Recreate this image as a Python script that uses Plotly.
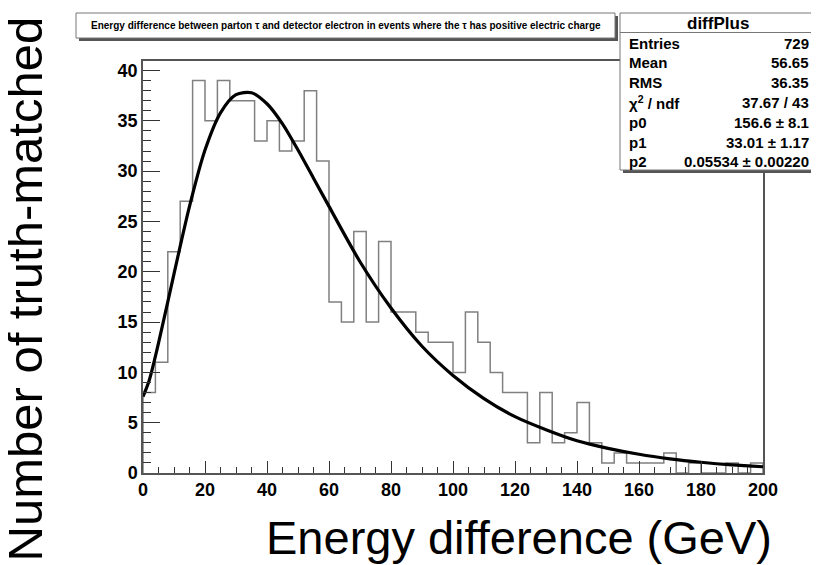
import plotly.graph_objects as go

# ---------------- data ----------------
bin_low_edges = [0, 4, 8, 12, 16, 20, 24, 28, 32, 36, 40, 44, 48, 52, 56, 60, 64, 68, 72, 76,
                 80, 84, 88, 92, 96, 100, 104, 108, 112, 116, 120, 124, 128, 132, 136, 140,
                 144, 148, 152, 156, 160, 164, 168, 172, 176, 180, 184, 188, 192, 196]
bin_width = 4
counts = [8, 11, 22, 27, 39, 35, 39, 37, 37, 33, 35, 32, 33, 38, 31, 17, 15, 24, 15, 23,
          16, 16, 14, 13, 13, 10, 16, 13, 10, 8, 8, 3, 8, 3, 4, 7, 3, 1, 2, 1,
          1, 1, 2, 0, 1, 0, 0, 1, 0, 1]

fit_x = [0, 2, 5, 10, 15, 20, 25, 30, 35, 40, 45, 50, 55, 60, 70, 80, 90, 100, 110, 120,
         130, 140, 150, 160, 170, 180, 190, 200]
fit_y = [7.6, 9.2, 12.9, 19.8, 26.5, 32.1, 35.8, 37.6, 37.8, 36.7, 34.7, 32.1, 29.3, 26.5,
         21.0, 16.4, 12.6, 9.7, 7.4, 5.6, 4.3, 3.2, 2.45, 1.86, 1.41, 1.07, 0.81, 0.62]

x_tick_vals = [0, 20, 40, 60, 80, 100, 120, 140, 160, 180, 200]
y_tick_vals = [0, 5, 10, 15, 20, 25, 30, 35, 40]

title_text = ("Energy difference between parton \u03c4 and detector electron in events "
              "where the \u03c4 has positive electric charge")
x_title = "Energy difference (GeV)"
y_title = "Number of truth-matched pairs"

stats_name = "diffPlus"
stats_labels = ["Entries", "Mean", "RMS", "\u03c7<sup>2</sup> / ndf", "p0", "p1", "p2"]
stats_values = ["729", "56.65", "36.35", "37.67 / 43", "156.6 \u00b1 8.1",
                "33.01 \u00b1 1.17", "0.05534 \u00b1 0.00220"]

# ---------------- layout geometry (page pixels) ----------------
BODY = 8                      # default page margin around the plot div
FIG_W, FIG_H = 819 - BODY, 565 - BODY
L, R, T, B = 143, 763, 61, 473  # plot frame in page pixels
W, H = R - L, B - T


def px(xp):
    return (xp - L) / W


def py(yp):
    return (B - yp) / H


# step outline of the histogram
step_x = bin_low_edges + [bin_low_edges[-1] + bin_width]
step_y = counts + [counts[-1]]

fig = go.Figure()
fig.add_trace(go.Scatter(
    x=[step_x[0]] + step_x + [step_x[-1]],
    y=[0] + step_y + [0],
    mode="lines", line=dict(shape="hv", color="#808080", width=1.5),
    hoverinfo="skip", showlegend=False,
))
fig.add_trace(go.Scatter(
    x=fit_x, y=fit_y, mode="lines",
    line=dict(shape="spline", smoothing=0.8, color="black", width=3.2),
    showlegend=False,
))

bold = dict(family="Liberation Sans, Arial, Helvetica, sans-serif", color="black", weight="bold")
plain = dict(family="Liberation Sans, Arial, Helvetica, sans-serif", color="black")

fig.update_xaxes(
    range=[0, 200], tickvals=x_tick_vals, ticktext=[str(v) for v in x_tick_vals],
    ticks="inside", ticklen=12, tickwidth=1, tickcolor="#333",
    minor=dict(ticks="inside", ticklen=6, dtick=5, tickcolor="#333", tickwidth=1),
    showline=True, linecolor="#555", linewidth=1.5, mirror=True,
    showgrid=False, zeroline=False,
    tickfont=dict(size=18, **bold),
)
fig.update_yaxes(
    range=[0, 40.95], tickvals=y_tick_vals, ticktext=[str(v) for v in y_tick_vals],
    ticks="inside", ticklen=17, tickwidth=1, tickcolor="#333",
    minor=dict(ticks="inside", ticklen=8.5, dtick=1, tickcolor="#333", tickwidth=1),
    showline=True, linecolor="#555", linewidth=1.5, mirror=True,
    showgrid=False, zeroline=False,
    tickfont=dict(size=18, **bold), ticklabelstandoff=0,
)

shapes = []
annotations = []

# title box with shadow
tb_x0, tb_x1, tb_y0, tb_y1 = 76, 615, 13, 38
shapes.append(dict(type="rect", xref="paper", yref="paper",
                   x0=px(tb_x0 + 3), x1=px(tb_x1 + 3), y0=py(tb_y1 + 3), y1=py(tb_y0 + 3),
                   fillcolor="#555", line=dict(width=0), layer="above"))
shapes.append(dict(type="rect", xref="paper", yref="paper",
                   x0=px(tb_x0), x1=px(tb_x1), y0=py(tb_y1), y1=py(tb_y0),
                   fillcolor="white", line=dict(color="#777", width=1), layer="above"))
annotations.append(dict(xref="paper", yref="paper", x=px(603), y=py(25.5),
                        xanchor="right", yanchor="middle", showarrow=False,
                        text=title_text, font=dict(size=10, **bold)))

# stats box with shadow
sb_x0, sb_x1, sb_y0, sb_y1 = 620, 815, 13, 170
shapes.append(dict(type="rect", xref="paper", yref="paper",
                   x0=px(sb_x0 + 3), x1=px(sb_x1 + 3), y0=py(sb_y1 + 3), y1=py(sb_y0 + 3),
                   fillcolor="#555", line=dict(width=0), layer="above"))
shapes.append(dict(type="rect", xref="paper", yref="paper",
                   x0=px(sb_x0), x1=px(sb_x1), y0=py(sb_y1), y1=py(sb_y0),
                   fillcolor="white", line=dict(color="#777", width=1), layer="above"))
shapes.append(dict(type="line", xref="paper", yref="paper",
                   x0=px(sb_x0), x1=px(sb_x1), y0=py(32.5), y1=py(32.5),
                   line=dict(color="#777", width=1), layer="above"))
annotations.append(dict(xref="paper", yref="paper", x=px((sb_x0 + sb_x1) / 2), y=py(23),
                        xanchor="center", yanchor="middle", showarrow=False,
                        text=stats_name, font=dict(size=17, **bold)))
for i, (lab, val) in enumerate(zip(stats_labels, stats_values)):
    yy = 43 + 19.8 * i
    annotations.append(dict(xref="paper", yref="paper", x=px(627), y=py(yy),
                            xanchor="left", yanchor="middle", showarrow=False,
                            text=lab, font=dict(size=15, **bold)))
    annotations.append(dict(xref="paper", yref="paper", x=px(811), y=py(yy),
                            xanchor="right", yanchor="middle", showarrow=False,
                            text=val, font=dict(size=15, **bold)))

# axis titles
annotations.append(dict(xref="paper", yref="paper", x=px(519), y=py(537),
                        xanchor="center", yanchor="middle", showarrow=False,
                        text=x_title, font=dict(size=47, **plain)))
annotations.append(dict(xref="paper", yref="paper", x=px(24), y=py(564),
                        xanchor="center", yanchor="bottom", showarrow=False, textangle=-90,
                        text=y_title, font=dict(size=49, **plain)))

fig.update_layout(
    width=FIG_W, height=FIG_H,
    margin=dict(l=L - BODY, r=FIG_W - (R - BODY), t=T - BODY, b=FIG_H - (B - BODY), pad=0),
    paper_bgcolor="white", plot_bgcolor="white",
    shapes=shapes, annotations=annotations, showlegend=False,
)

fig.write_html("out.html")
